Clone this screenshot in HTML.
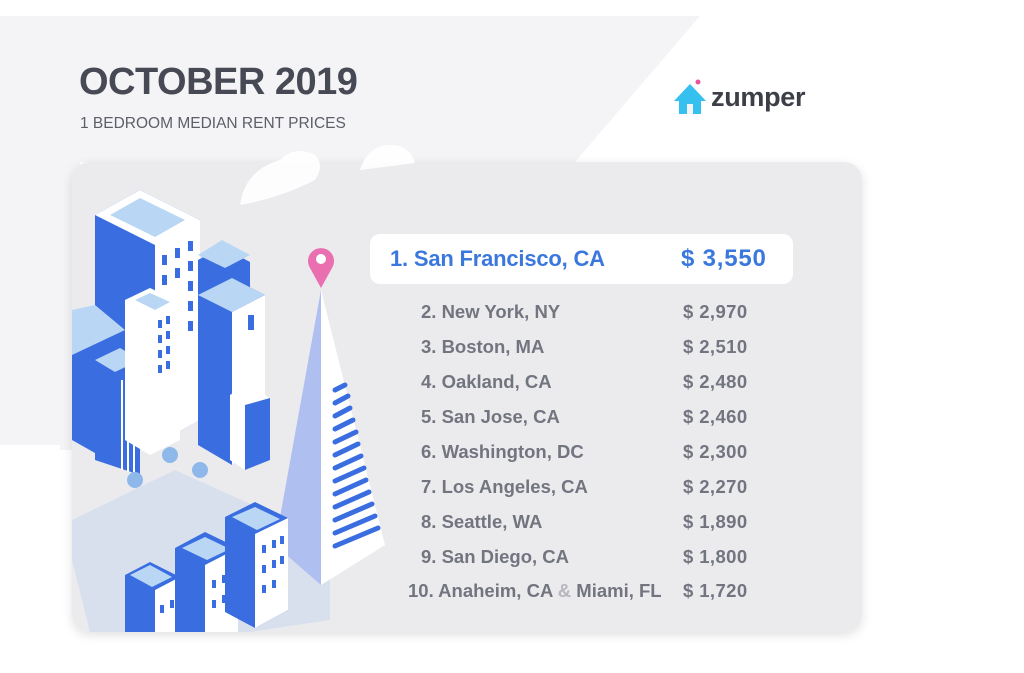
<!DOCTYPE html>
<html><head><meta charset="utf-8"><style>
body{margin:0;width:1024px;height:673px;background:#fff;position:relative;overflow:hidden;font-family:"Liberation Sans",sans-serif}
.a{position:absolute;white-space:nowrap}
.r{position:absolute;font-weight:bold;font-size:18.5px;color:#72757f;line-height:20px}
.p{position:absolute;font-weight:bold;font-size:18.5px;color:#72757f;line-height:20px;letter-spacing:0.4px}
</style></head><body>
<svg class="a" style="left:0;top:0" width="1024" height="673">
<polygon points="0,16 700,16 575,162 72,162 72,445 0,445" fill="#f4f4f6"/>
<rect x="60" y="150" width="20" height="300" fill="#f4f4f6"/>
<defs><filter id="s" x="-5%" y="-5%" width="110%" height="115%"><feDropShadow dx="0" dy="3" stdDeviation="5" flood-color="#000" flood-opacity="0.12"/></filter></defs>
<rect x="72" y="162" width="790" height="470" rx="18" fill="#ebebee" filter="url(#s)"/>
<!-- clouds -->
<path d="M240 205 q5-35 40-45 q15-15 35-5 q10 10 0 25 q-35 18-75 25z" fill="#fff" opacity="0.9"/>
<path d="M360 170 q8-25 30-25 q20 0 25 18z" fill="#fff" opacity="0.9"/>
<!-- ground -->
<polygon points="72,560 72,520 175,470 330,540 330,620 250,632 90,632" fill="#d8e0ee"/>
<!-- big left tower -->
<polygon points="95,215 140,190 200,220 200,420 155,445 95,415" fill="#3a6ee0"/>
<polygon points="155,240 200,220 200,420 155,445" fill="#fff"/>
<polygon points="95,215 140,190 200,220 155,245" fill="#fff"/>
<polygon points="110,215 140,198 185,220 155,237" fill="#b9d7f5"/>
<g fill="#3a6ee0"><rect x="162" y="255" width="5" height="10"/><rect x="175" y="248" width="5" height="10"/><rect x="188" y="241" width="5" height="10"/><rect x="162" y="275" width="5" height="10"/><rect x="175" y="268" width="5" height="10"/><rect x="188" y="261" width="5" height="10"/><rect x="188" y="281" width="5" height="10"/><rect x="188" y="301" width="5" height="10"/><rect x="188" y="321" width="5" height="10"/></g>
<polygon points="72,330 95,310 125,330 125,470 72,440" fill="#3a6ee0"/>
<polygon points="72,310 95,305 125,330 72,355" fill="#b9d7f5"/>
<polygon points="95,360 120,350 140,362 140,475 95,460" fill="#3a6ee0"/>
<polygon points="95,360 120,348 140,360 115,372" fill="#b9d7f5"/>
<g stroke="#fff" stroke-width="2"><line x1="122" y1="380" x2="122" y2="470"/><line x1="128" y1="377" x2="128" y2="472"/><line x1="134" y1="374" x2="134" y2="474"/></g>
<polygon points="125,300 150,288 180,302 180,440 150,455 125,440" fill="#fff"/>
<polygon points="135,300 150,293 170,302 155,310" fill="#b9d7f5"/>
<g fill="#3a6ee0"><rect x="158" y="320" width="4" height="8"/><rect x="166" y="316" width="4" height="8"/><rect x="158" y="335" width="4" height="8"/><rect x="166" y="331" width="4" height="8"/><rect x="158" y="350" width="4" height="8"/><rect x="166" y="346" width="4" height="8"/><rect x="158" y="365" width="4" height="8"/><rect x="166" y="361" width="4" height="8"/></g>
<polygon points="198,260 222,247 250,262 250,300 198,300" fill="#3a6ee0"/>
<polygon points="198,255 222,240 250,255 225,268" fill="#b9d7f5"/>
<polygon points="198,295 232,278 265,295 265,445 232,465 198,445" fill="#3a6ee0"/>
<polygon points="232,312 265,295 265,445 232,465" fill="#fff"/>
<polygon points="198,295 232,278 265,295 232,312" fill="#b9d7f5"/>
<rect x="248" y="315" width="6" height="15" fill="#3a6ee0"/>
<polygon points="230,395 245,385 270,398 270,460 245,470 230,460" fill="#fff"/>
<polygon points="245,405 270,398 270,460 245,470" fill="#3a6ee0"/>
<g fill="#8fb8ea"><circle cx="135" cy="480" r="8"/><circle cx="170" cy="455" r="8"/><circle cx="200" cy="470" r="8"/></g>
<polygon points="321,290 275,545 321,585" fill="#aebff0"/>
<polygon points="321,290 321,585 385,545" fill="#fff"/>
<g stroke="#3a6ee0" stroke-width="5" stroke-linecap="round">
<line x1="335" y1="390" x2="345" y2="385"/><line x1="335" y1="403" x2="348" y2="396"/><line x1="335" y1="416" x2="350" y2="408"/><line x1="335" y1="429" x2="353" y2="420"/><line x1="335" y1="442" x2="356" y2="432"/><line x1="335" y1="455" x2="358" y2="444"/><line x1="335" y1="468" x2="361" y2="456"/><line x1="335" y1="481" x2="364" y2="468"/><line x1="335" y1="494" x2="366" y2="480"/><line x1="335" y1="507" x2="369" y2="492"/><line x1="335" y1="520" x2="372" y2="504"/><line x1="335" y1="533" x2="375" y2="516"/><line x1="335" y1="546" x2="378" y2="528"/></g>
<path d="M321 288 L310 268 A13 13 0 1 1 332 268 Z" fill="#ea6fb0"/>
<circle cx="321" cy="259" r="5" fill="#fff"/>
<g>
<polygon points="125,575 150,562 180,577 180,632 125,632" fill="#3a6ee0"/><polygon points="155,590 180,577 180,632 155,632" fill="#fff"/><polygon points="130,575 150,565 172,577 152,587" fill="#b9d7f5"/>
<polygon points="175,548 205,532 238,548 238,632 175,632" fill="#3a6ee0"/><polygon points="205,565 238,548 238,632 205,632" fill="#fff"/><polygon points="182,548 205,537 230,549 207,560" fill="#b9d7f5"/>
<polygon points="225,517 255,502 288,518 288,610 255,628 225,612" fill="#3a6ee0"/><polygon points="255,534 288,518 288,610 255,628" fill="#fff"/><polygon points="232,517 255,507 280,519 257,530" fill="#b9d7f5"/>
<g fill="#3a6ee0"><rect x="262" y="545" width="4" height="8"/><rect x="272" y="540" width="4" height="8"/><rect x="280" y="536" width="4" height="8"/><rect x="262" y="565" width="4" height="8"/><rect x="272" y="560" width="4" height="8"/><rect x="280" y="556" width="4" height="8"/><rect x="262" y="585" width="4" height="8"/><rect x="272" y="580" width="4" height="8"/><rect x="212" y="580" width="4" height="8"/><rect x="222" y="575" width="4" height="8"/><rect x="212" y="600" width="4" height="8"/><rect x="222" y="595" width="4" height="8"/><rect x="160" y="605" width="4" height="8"/><rect x="170" y="600" width="4" height="8"/></g>
</g>
<polygon points="690,84 674,101 679,101 679,114 701,114 701,101 706,101" fill="#35c0f0"/>
<rect x="687" y="104" width="6" height="10" fill="#f4f4f6"/>
<circle cx="698" cy="82" r="2.5" fill="#e8569a"/>
</svg>
<div class="a" style="left:79px;top:61px;font-size:38px;font-weight:bold;color:#474a54;letter-spacing:-0.5px">OCTOBER 2019</div>
<div class="a" style="left:80px;top:115px;font-size:15.5px;color:#5c5f68">1 BEDROOM MEDIAN RENT PRICES</div>
<div class="a" style="left:711px;top:82px;font-size:27px;font-weight:bold;color:#3c3f47;letter-spacing:-0.3px">zumper</div>
<div class="a" style="left:370px;top:234px;width:423px;height:50px;background:#fff;border-radius:10px"></div>
<div class="a" style="left:390px;top:246px;font-size:22px;font-weight:bold;color:#3b78de;letter-spacing:-0.2px">1. San Francisco, CA</div>
<div class="a" style="left:681px;top:245px;font-size:24px;font-weight:bold;color:#3b78de;letter-spacing:0.8px">$ 3,550</div>
<div class="r" style="left:421px;top:302px">2. New York, NY</div><div class="p" style="left:683px;top:302px">$ 2,970</div>
<div class="r" style="left:421px;top:337px">3. Boston, MA</div><div class="p" style="left:683px;top:337px">$ 2,510</div>
<div class="r" style="left:421px;top:372px">4. Oakland, CA</div><div class="p" style="left:683px;top:372px">$ 2,480</div>
<div class="r" style="left:421px;top:407px">5. San Jose, CA</div><div class="p" style="left:683px;top:407px">$ 2,460</div>
<div class="r" style="left:421px;top:442px">6. Washington, DC</div><div class="p" style="left:683px;top:442px">$ 2,300</div>
<div class="r" style="left:421px;top:477px">7. Los Angeles, CA</div><div class="p" style="left:683px;top:477px">$ 2,270</div>
<div class="r" style="left:421px;top:512px">8. Seattle, WA</div><div class="p" style="left:683px;top:512px">$ 1,890</div>
<div class="r" style="left:421px;top:547px">9. San Diego, CA</div><div class="p" style="left:683px;top:547px">$ 1,800</div>
<div class="r" style="left:408px;top:581px">10. Anaheim, CA <span style="color:#b5b7bd">&amp;</span> Miami, FL</div><div class="p" style="left:683px;top:581px">$ 1,720</div>
</body></html>
